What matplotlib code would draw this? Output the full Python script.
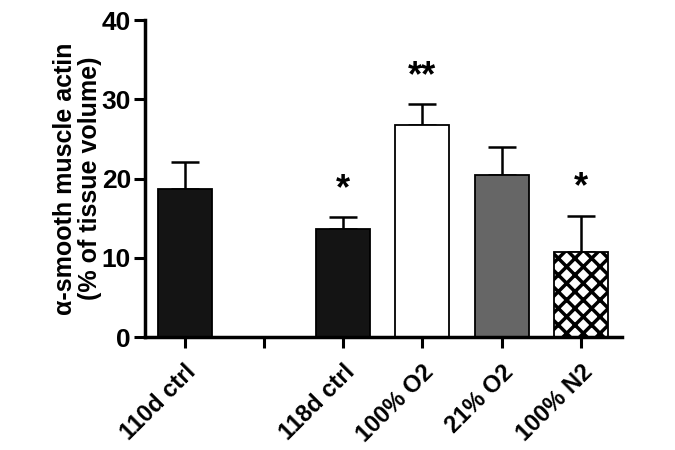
import matplotlib
matplotlib.use("Agg")
import matplotlib.pyplot as plt
import numpy as np

categories = ["110d ctrl", "", "118d ctrl", "100% O2", "21% O2", "100% N2"]
means = [18.7, np.nan, 13.6, 26.7, 20.4, 10.7]
errors = [3.4, np.nan, 1.5, 2.7, 3.6, 4.6]
stars = ["", "", "*", "**", "", "*"]
colors = ["#141414", "white", "#141414", "white", "#666666", "white"]
hatches = [None, None, None, None, None, "xx"]

plt.rcParams['font.family'] = ['Liberation Sans', 'DejaVu Sans']
plt.rcParams['hatch.linewidth'] = 2.5

fig = plt.figure(figsize=(6.75, 4.5), dpi=100)
ax = fig.add_axes([0.2148, 0.251, 0.7067, 0.7044])

x = np.arange(len(categories))
for i in range(len(categories)):
    if np.isnan(means[i]):
        continue
    ax.bar(x[i], means[i], width=0.68, color=colors[i], edgecolor="black",
           linewidth=1.3, hatch=hatches[i], zorder=2)
    ax.errorbar(x[i], means[i], yerr=[[0], [errors[i]]], fmt="none",
                ecolor="black", elinewidth=1.8, capsize=10, capthick=1.8, zorder=1)
    if stars[i]:
        ax.text(x[i], means[i] + errors[i] + 1.3, stars[i], ha="center", va="bottom",
                fontsize=26, fontweight="bold")

ax.set_xlim(-0.5, 5.52)
ax.set_ylim(0, 40)
ax.set_yticks([0, 10, 20, 30, 40])
ax.set_xticks(x)
ax.set_xticklabels(categories, rotation=45, ha="right", rotation_mode="anchor",
                   fontsize=17, fontweight="bold")
for lbl in ax.get_yticklabels():
    lbl.set_fontsize(19)
    lbl.set_fontweight("bold")
ax.tick_params(axis="both", direction="out", length=8, width=2.2, pad=2)
ax.tick_params(axis="x", pad=9)
for s in ["top", "right"]:
    ax.spines[s].set_visible(False)
for s in ["left", "bottom"]:
    ax.spines[s].set_linewidth(2.5)

ax.set_ylabel("α-smooth muscle actin\n(% of tissue volume)", fontsize=18,
              fontweight="bold", labelpad=0, linespacing=1.05)

fig.savefig("out.png", dpi=100)
